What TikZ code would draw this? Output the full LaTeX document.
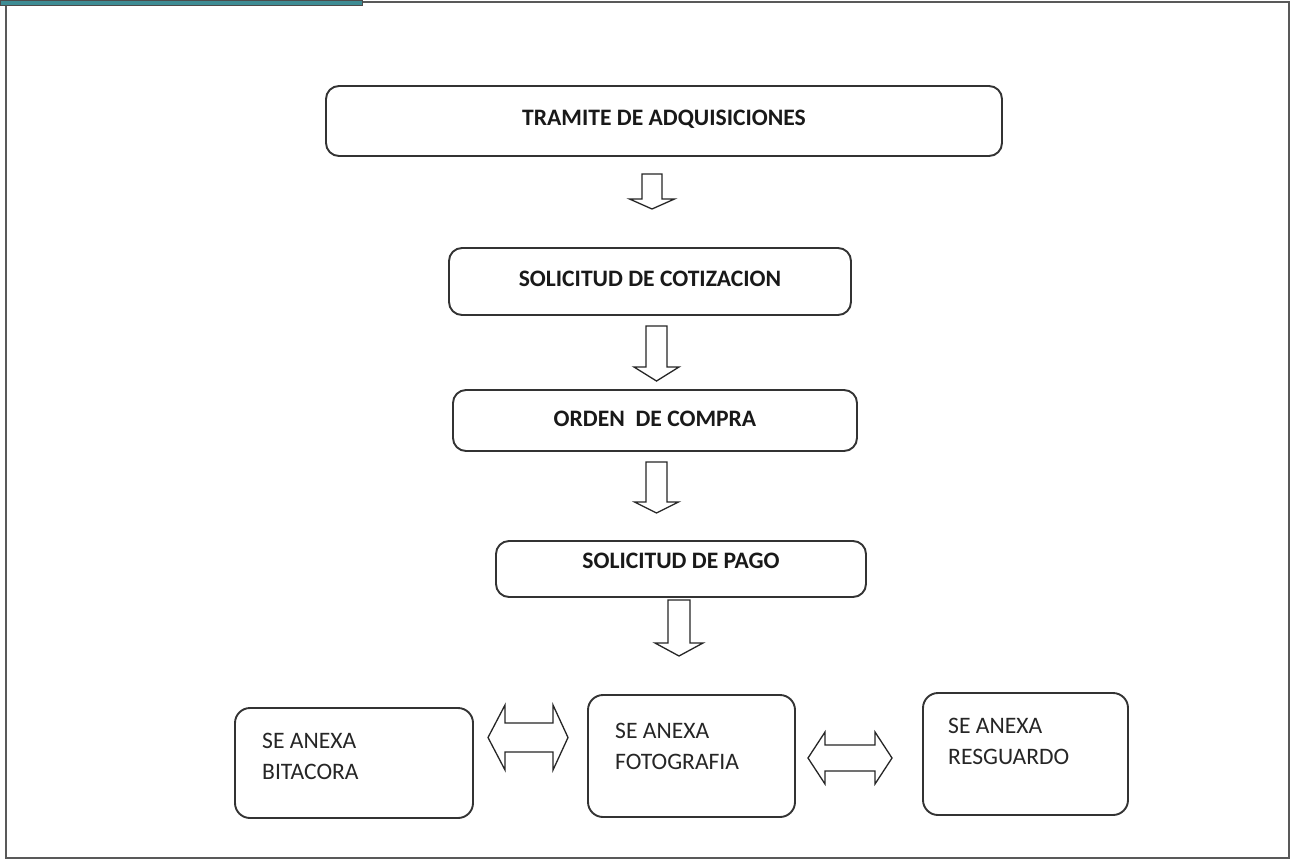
\documentclass[tikz,border=0pt]{standalone}
\usepackage{fontspec}
\setmainfont{Carlito}
\begin{document}
\begin{tikzpicture}[x=1pt,y=-1pt,
  box/.style={draw=black!80,line width=1.9pt,rounded corners=13pt,inner sep=0pt,text depth=3pt,font=\fontsize{23.6}{28}\selectfont\bfseries,text=black!90},
  obox/.style={draw=black!80,line width=1.9pt,rounded corners=15pt,inner sep=0pt},
  otext/.style={inner sep=0pt,anchor=north west,align=left,font=\fontsize{23.6}{30.5}\selectfont,text=black!85},
  blk/.style={draw=black!85,line width=1.3pt,fill=white,line join=miter},
  frame/.style={draw=black!65,line width=1.4pt}]
\useasboundingbox (0,0) rectangle (1292,860);
\fill[white] (0,0) rectangle (1292,860);
% frame
\draw[frame] (362,2) -- (1289,2) -- (1289,858) -- (6,858) -- (6,5);
\fill[draw=black!70,line width=0.8pt,fill={rgb,255:red,62;green,140;blue,148}] (0,0) rectangle (362,5);
% boxes
\node[box,text depth=7pt,minimum width=676pt,minimum height=70pt] (b1) at (664,121) {TRAMITE DE ADQUISICIONES};
\node[box,text depth=6pt,minimum width=402pt,minimum height=67pt] (b2) at (650,281.5) {SOLICITUD DE COTIZACION};
\node[box,minimum width=404pt,minimum height=61pt] (b3) at (655,420.5) {ORDEN\ \ DE COMPRA};
\node[box,text depth=16pt,minimum width=370pt,minimum height=56pt] (b4) at (681,569) {SOLICITUD DE PAGO};
\node[obox,minimum width=238pt,minimum height=110pt] (b5) at (354,763) {};
\node[obox,minimum width=207pt,minimum height=122pt] (b6) at (691.5,756) {};
\node[obox,minimum width=205pt,minimum height=122pt] (b7) at (1025.5,754) {};
\node[otext] (t5) at (262,733) {SE ANEXA\\BITACORA};
\node[otext] (t6) at (615,723) {SE ANEXA\\FOTOGRAFIA};
\node[otext] (t7) at (948,718) {SE ANEXA\\RESGUARDO};
% down block arrows: cx, top, shaft half width, head base, head half width, tip
\newcommand\blkdown[6]{%
  \draw[blk] (#1-#3,#2) -- (#1+#3,#2) -- (#1+#3,#4) -- (#1+#5,#4) -- (#1,#6)
    -- (#1-#5,#4) -- (#1-#3,#4) -- cycle;}
\blkdown{652}{174}{10}{199}{22.5}{209}
\blkdown{656.5}{326}{10.5}{367}{22.5}{381}
\blkdown{656.5}{462}{10.5}{502}{22}{513}
\blkdown{679}{600}{11}{643}{24}{656}
% double block arrows: ltip, lbase, rbase, rtip, cy, shaft half height, head half height
\newcommand\blkdouble[7]{%
  \draw[blk] (#1,#5) -- (#2,#5-#7) -- (#2,#5-#6) -- (#3,#5-#6) -- (#3,#5-#7)
    -- (#4,#5) -- (#3,#5+#7) -- (#3,#5+#6) -- (#2,#5+#6) -- (#2,#5+#7) -- cycle;}
\blkdouble{488}{505}{553}{568}{737.5}{14.5}{32.5}
\blkdouble{808}{825}{875}{892}{758}{13}{26}
\end{tikzpicture}
\end{document}
